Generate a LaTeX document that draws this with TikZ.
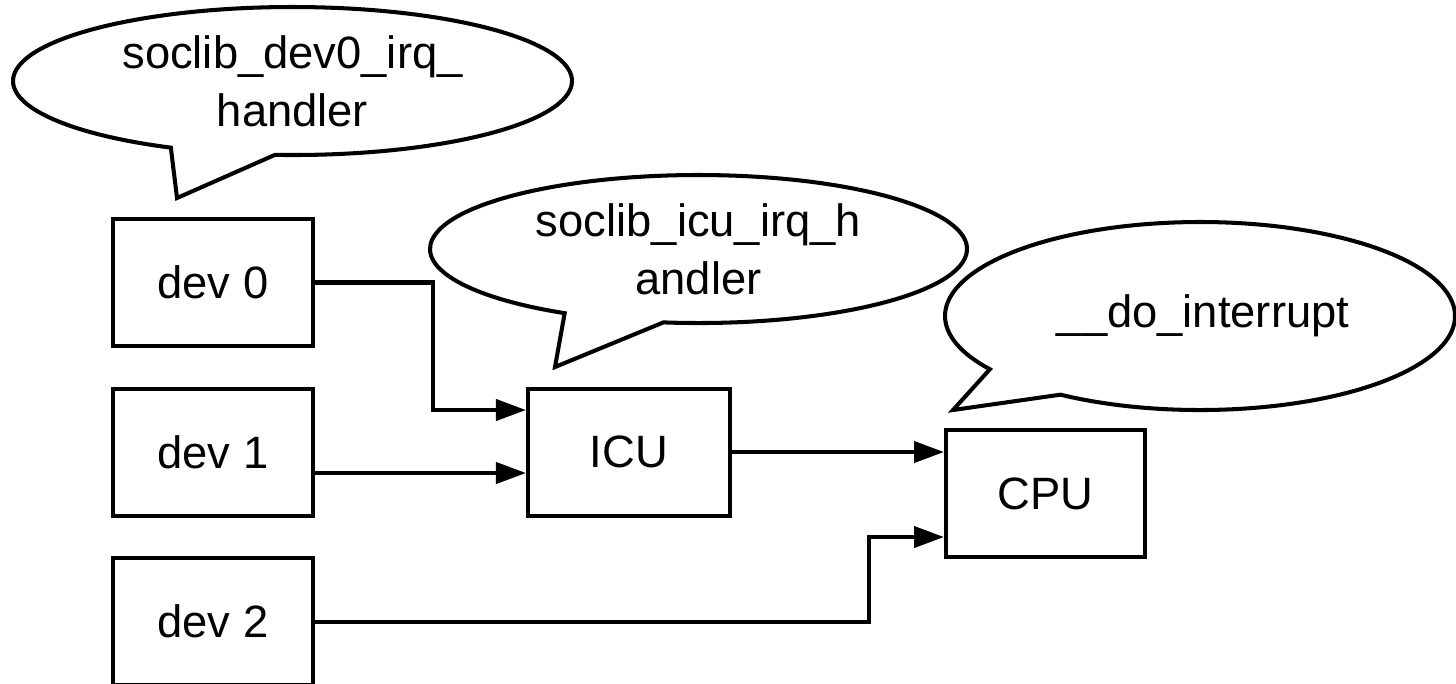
\documentclass[tikz,border=0pt]{standalone}
\usepackage{fontspec}
\setmainfont{Liberation Sans}
\usepackage{tikz}
\usetikzlibrary{arrows.meta}

\begin{document}
\begin{tikzpicture}[>={Triangle[length=3mm,width=2.1mm]},line width=1.15pt,
		font=\fontsize{12.9}{16.5}\selectfont,
		box/.style={draw,rectangle,minimum width=2cm,minimum height=1.27cm,inner sep=0pt},
		say/.style={align=center,inner sep=0pt}]
			\useasboundingbox(0,0)rectangle(14.56,-6.83);
			\clip(0,0)rectangle(14.56,-6.83);
			% devices, ICU and CPU
			\node[box](dev0)at(2.13,-2.825){dev 0};
			\node[box](dev1)at(2.13,-4.52){dev 1};
			\node[box](dev2)at(2.13,-6.215){dev 2};
			\node[box,minimum width=2.02cm](icu)at(6.29,-4.52){ICU};
			\node[box,minimum width=1.99cm](cpu)at(10.455,-4.935){CPU};
			% irq lines
			\draw[->](dev0.east)--++(1.18,0)|-([yshift=.42cm]icu.west);
			\draw[->]([yshift=-.21cm]dev1.east)--([yshift=-.21cm]dev1.east-|icu.west);
			\draw[->](icu.east)--(icu.east-|cpu.west);
			\draw[->](dev2.east)--++(5.54,0)|-([yshift=-.435cm]cpu.west);
			% handler bubbles
			\node[say](hdev)at(2.925,-0.81){soclib\_dev0\_irq\_\\handler};
			\node[say](hicu)at(6.985,-2.49){soclib\_icu\_irq\_h\\andler};
			\node[say](hcpu)at(12.03,-3.16){\_\_do\_interrupt};
			\coordinate(tdev)at(1.77,-1.98);
			\coordinate(ticu)at(5.55,-3.67);
			\coordinate(tcpu)at(9.53,-4.10);
			\draw(hdev.center)++(-93.6:2.795 and .74)arc[start angle=-93.6,end angle=244.2,x radius=2.795,y radius=.74]--(tdev)--cycle;
			\draw(hicu.center)++(-97.5:2.685 and .74)arc[start angle=-97.5,end angle=240.1,x radius=2.685,y radius=.74]--(ticu)--cycle;
			\draw([xshift=-.03cm]hcpu.center)++(-123.2:2.55 and .94)arc[start angle=-123.2,end angle=214.5,x radius=2.55,y radius=.94]--(tcpu)--cycle;
		\end{tikzpicture}
\end{document}
